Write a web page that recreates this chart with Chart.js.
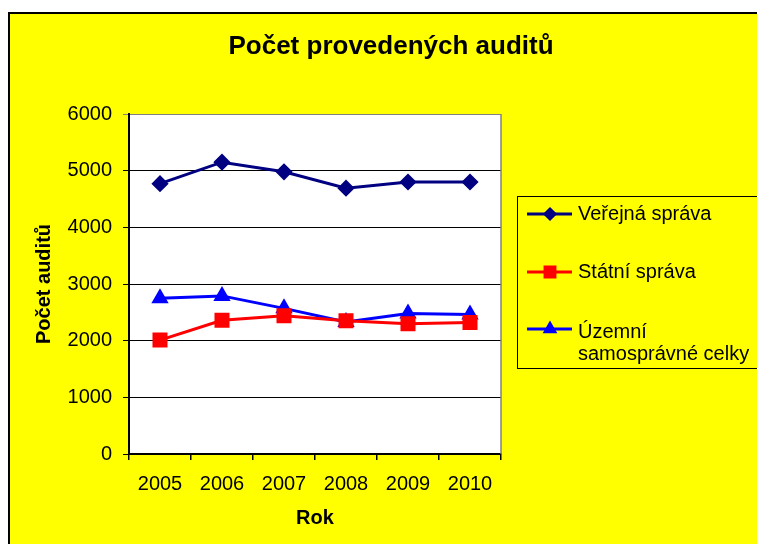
<!DOCTYPE html>
<html>
<head>
<meta charset="utf-8">
<script src="https://cdn.jsdelivr.net/npm/chart.js@4/dist/chart.umd.min.js"></script>
<style>
html,body{margin:0;padding:0;background:#fff;}
#wrap{width:757px;height:544px;}
</style>
</head>
<body>
<div id="wrap"><canvas id="c" width="757" height="544"></canvas></div>
<script>
const chartTitle = 'Počet provedených auditů';
const xTitle = 'Rok';
const yTitle = 'Počet auditů';
const years = ['2005', '2006', '2007', '2008', '2009', '2010'];
const verejnaSprava = [4770, 5150, 4980, 4690, 4800, 4800];
const statniSprava = [2010, 2360, 2440, 2350, 2300, 2320];
const uzemniCelky = [2750, 2790, 2570, 2330, 2480, 2460];
const seriesNames = ['Veřejná správa', 'Státní správa', ['Územní', 'samosprávné celky']];
const yTicks = [0, 1000, 2000, 3000, 4000, 5000, 6000];

const FONT = '"Liberation Sans", Arial, Helvetica, sans-serif';

const framePlugin = {
  id: 'frame',
  beforeDraw(chart) {
    const ctx = chart.ctx;
    const W = chart.width, H = chart.height;
    ctx.save();
    ctx.fillStyle = '#ffffff';
    ctx.fillRect(0, 0, W, H);
    ctx.fillStyle = '#ffff00';
    ctx.fillRect(9, 13, W - 9, H - 13);
    ctx.strokeStyle = '#000';
    ctx.lineWidth = 2;
    ctx.beginPath();
    ctx.moveTo(9, H);
    ctx.lineTo(9, 13);
    ctx.lineTo(W, 13);
    ctx.stroke();
    const a = chart.chartArea;
    ctx.fillStyle = '#ffffff';
    ctx.fillRect(a.left, a.top, a.right - a.left, a.bottom - a.top);
    ctx.restore();
  },
  afterDraw(chart) {
    const ctx = chart.ctx;
    const a = chart.chartArea;
    ctx.save();
    // plot area right border
    ctx.strokeStyle = '#808080';
    ctx.lineWidth = 1.5;
    ctx.beginPath();
    ctx.moveTo(a.right, a.top);
    ctx.lineTo(a.right, a.bottom);
    ctx.stroke();
    // title
    ctx.fillStyle = '#000';
    ctx.font = 'bold 26px ' + FONT;
    ctx.textAlign = 'center';
    ctx.textBaseline = 'middle';
    ctx.fillText(chartTitle, 391, 47);
    // legend box
    const bx = 517.5, by = 196.5, bw = 260, bh = 172;
    ctx.fillStyle = '#ffff00';
    ctx.fillRect(bx, by, bw, bh);
    ctx.strokeStyle = '#000';
    ctx.lineWidth = 1;
    ctx.strokeRect(bx, by, bw, bh);
    const rows = [214, 272, 329];
    const markerR = [5, 7, 5.5];
    chart.data.datasets.forEach((ds, i) => {
      const y = rows[i];
      ctx.strokeStyle = ds.borderColor;
      ctx.lineWidth = 3;
      ctx.beginPath();
      ctx.moveTo(527, y);
      ctx.lineTo(572, y);
      ctx.stroke();
      Chart.helpers.drawPoint(ctx, {pointStyle: ds.pointStyle, radius: markerR[i], borderWidth: 1}, 550, y);
      ctx.fillStyle = ds.pointBackgroundColor;
      ctx.fill();
      ctx.fillStyle = '#000';
      ctx.font = '20px ' + FONT;
      ctx.textAlign = 'left';
      ctx.textBaseline = 'middle';
      const lbl = seriesNames[i];
      if (Array.isArray(lbl)) {
        lbl.forEach((t, k) => ctx.fillText(t, 578, y + 3 + k * 22));
      } else {
        ctx.fillText(lbl, 578, y);
      }
    });
    ctx.restore();
  }
};

const mk = (label, data, color, style, r) => ({
  label: Array.isArray(label) ? label.join(' ') : label,
  data,
  borderColor: color,
  backgroundColor: color,
  pointBackgroundColor: color,
  pointBorderColor: color,
  pointStyle: style,
  pointRadius: r,
  pointHoverRadius: r,
  borderWidth: 3,
  tension: 0,
  fill: false
});

new Chart(document.getElementById('c'), {
  type: 'line',
  data: {
    labels: years,
    datasets: [
      mk(seriesNames[0], verejnaSprava, '#000080', 'rectRot', 6.5),
      mk(seriesNames[1], statniSprava, '#ff0000', 'rect', 8.5),
      mk(seriesNames[2], uzemniCelky, '#0000ff', 'triangle', 7)
    ]
  },
  options: {
    responsive: false,
    animation: false,
    devicePixelRatio: 1,
    layout: { padding: { left: 9, top: 114, right: 256, bottom: 0 } },
    plugins: {
      legend: { display: false },
      title: { display: false },
      tooltip: { enabled: false }
    },
    scales: {
      x: {
        offset: true,
        afterFit: (s) => { s.height = 90; },
        grid: {
          offset: true,
          drawOnChartArea: false,
          drawTicks: true,
          tickLength: 6,
          color: '#000',
          lineWidth: 1.5
        },
        border: { color: '#000', width: 2 },
        ticks: {
          color: '#000',
          font: { family: FONT, size: 20 },
          padding: 12,
          maxRotation: 0,
          autoSkip: false
        },
        title: {
          display: true,
          text: xTitle,
          color: '#000',
          font: { family: FONT, size: 20, weight: 'bold' },
          padding: { top: 0, bottom: 14 }
        }
      },
      y: {
        min: 0,
        max: 6000,
        afterFit: (s) => { s.width = 120; },
        afterBuildTicks: (s) => { s.ticks = yTicks.map(v => ({ value: v })); },
        grid: {
          color: (c) => (c.tick && c.tick.value === 6000 ? '#808080' : '#000'),
          lineWidth: 1,
          drawTicks: true,
          tickLength: 6
        },
        border: { color: '#000', width: 2 },
        ticks: {
          color: '#000',
          font: { family: FONT, size: 20 },
          padding: 11,
          callback: (v) => String(v)
        },
        title: {
          display: true,
          text: yTitle,
          color: '#000',
          font: { family: FONT, size: 20, weight: 'bold' },
          padding: { top: 23, bottom: 0 }
        }
      }
    }
  },
  plugins: [framePlugin]
});
</script>
</body>
</html>
